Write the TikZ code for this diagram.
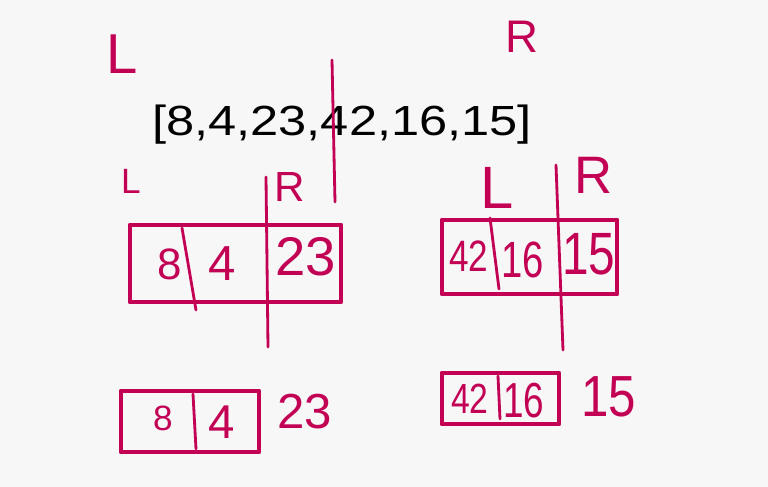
\documentclass[tikz,border=0pt]{standalone}
\usepackage{fontspec}
\setmainfont{Liberation Sans}
\definecolor{ink}{RGB}{194,0,84}
\definecolor{bgc}{RGB}{247,247,247}
\begin{document}
\begin{tikzpicture}[x=0.02cm,y=-0.02cm,line cap=round,line join=round,
  boxln/.style={draw=ink,line width=2.8pt},
  divln/.style={draw=ink,line width=1.6pt},
  pk/.style={text=ink,inner sep=0pt,font=\fontsize{#1}{#1}\selectfont},
  blk/.style={text=black,inner sep=0pt,font=\fontsize{#1}{#1}\selectfont}]
\fill[bgc] (0,0) rectangle (768,487);
\useasboundingbox (0,0) rectangle (768,487);

% top array
\node[blk=24] (arr) at (342,125) {\scalebox{1.2}[1]{[8,4,23,42,16,15]}};
\node[pk=32] (Ltop) at (122,54) {L};
\node[pk=26] (Rtop) at (522,37) {R};
\coordinate (s1) at (332,60);
\coordinate (s2) at (335,202);
\draw[divln] (s1) -- (s2);

% left box
\draw[boxln] (130,225) rectangle (341,302);
\coordinate (d1a) at (182,228); \coordinate (d1b) at (196,310);
\draw[divln] (d1a) -- (d1b);
\coordinate (v1a) at (266,177); \coordinate (v1b) at (268,347);
\draw[divln] (v1a) -- (v1b);
\node[pk=25] (n8) at (170,264) {8};
\node[pk=28] (n4) at (222,264) {4};
\node[pk=31] (n23) at (306,257) {23};
\node[pk=20] (L1) at (131,181) {L};
\node[pk=24] (R1) at (290,187) {R};

% right box
\draw[boxln] (442,220) rectangle (617,294);
\coordinate (d2a) at (490,218); \coordinate (d2b) at (499,289);
\draw[divln] (d2a) -- (d2b);
\coordinate (v2a) at (556,165); \coordinate (v2b) at (563,350);
\draw[divln] (v2a) -- (v2b);
\node[pk=25] (n42) at (469,256) {\scalebox{0.8}[1]{42}};
\node[pk=29] (n16) at (523,260) {\scalebox{0.75}[1]{16}};
\node[pk=34] (n15) at (589,254) {\scalebox{0.8}[1]{15}};
\node[pk=34] (L2) at (497,188) {L};
\node[pk=30] (R2) at (594,175) {R};

% bottom left box
\draw[boxln] (121,391) rectangle (259,452);
\coordinate (d3a) at (193,394); \coordinate (d3b) at (196,449);
\draw[divln] (d3a) -- (d3b);
\node[pk=20] (b8) at (163,418) {8};
\node[pk=27] (b4) at (222,422) {4};
\node[pk=28] (b23) at (305,412) {23};

% bottom right box
\draw[boxln] (442,373) rectangle (559,424);
\coordinate (d4a) at (498,376); \coordinate (d4b) at (500,419);
\draw[divln] (d4a) -- (d4b);
\node[pk=24] (b42) at (470,399) {\scalebox{0.8}[1]{42}};
\node[pk=28] (b16) at (524,401) {\scalebox{0.75}[1]{16}};
\node[pk=33] (b15) at (609,397) {\scalebox{0.85}[1]{15}};
\end{tikzpicture}
\end{document}
